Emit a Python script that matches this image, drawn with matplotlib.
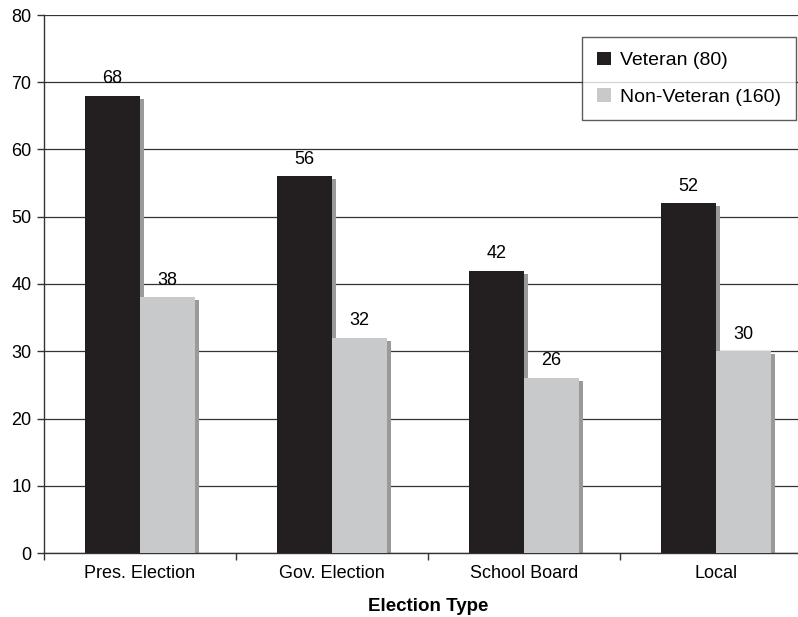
import matplotlib
matplotlib.use("Agg")
import matplotlib.pyplot as plt
import numpy as np

categories = ["Pres. Election", "Gov. Election", "School Board", "Local"]
veteran = [68, 56, 42, 52]
non_veteran = [38, 32, 26, 30]
series_names = ["Veteran (80)", "Non-Veteran (160)"]

plt.rcParams['font.family'] = ['Liberation Sans', 'DejaVu Sans']

fig = plt.figure(figsize=(7.98, 6.17), dpi=100)
W, H = 798, 617
left, right, top, bottom = 44, 812, 15, 553
ax = fig.add_axes([left / W, 1 - bottom / H, (right - left) / W, (bottom - top) / H])

x = np.arange(len(categories))
bw = 0.286
dx = 4 / 192  # shadow offset in data units
dy = 3 / 6.725

c_dark = "#231f20"
c_light = "#c8c9ca"
c_shadow = "#9a9a9c"

for vals, off, col, name in [(veteran, -bw / 2, c_dark, series_names[0]),
                              (non_veteran, bw / 2, c_light, series_names[1])]:
    xs = x + off
    ax.bar(xs + dx, np.array(vals) - dy, width=bw, color=c_shadow, zorder=2)
    ax.bar(xs, vals, width=bw, color=col, zorder=3, label=name)
    for xi, v in zip(xs, vals):
        ax.text(xi, v + 1.3, str(v), ha="center", va="bottom", fontsize=13, zorder=4)

ax.set_xlim(-0.5, len(categories) - 0.5)
ax.set_ylim(0, 80)
ax.set_yticks(range(0, 81, 10))
ax.yaxis.grid(True, color="#333333", linewidth=0.9, zorder=0)
ax.set_axisbelow(True)

ax.set_xticks(x)
ax.set_xticklabels(categories, fontsize=13)
ax.tick_params(axis="x", which="major", length=0, pad=9)
ax.set_xticks(np.arange(-0.5, len(categories), 1), minor=True)
ax.tick_params(axis="x", which="minor", length=5, width=1, color="#333333")
ax.tick_params(axis="y", labelsize=13, length=5, width=1, color="#333333", pad=4)

for s in ["top", "right"]:
    ax.spines[s].set_visible(False)
for s in ["left", "bottom"]:
    ax.spines[s].set_color("#333333")
    ax.spines[s].set_linewidth(1)

ax.set_xlabel("Election Type", fontsize=13.5, fontweight="bold", labelpad=11)

leg = ax.legend(loc="upper left", bbox_to_anchor=((582 - left) / (right - left), 1 - (37 - top) / (bottom - top)),
                fontsize=14, frameon=True, fancybox=False, edgecolor="#333333",
                handlelength=0.72, handleheight=0.72, handletextpad=0.5,
                labelspacing=0.95, borderpad=0.75, borderaxespad=0)
leg.get_frame().set_linewidth(1)

fig.savefig("out.png", dpi=100, facecolor="white")
